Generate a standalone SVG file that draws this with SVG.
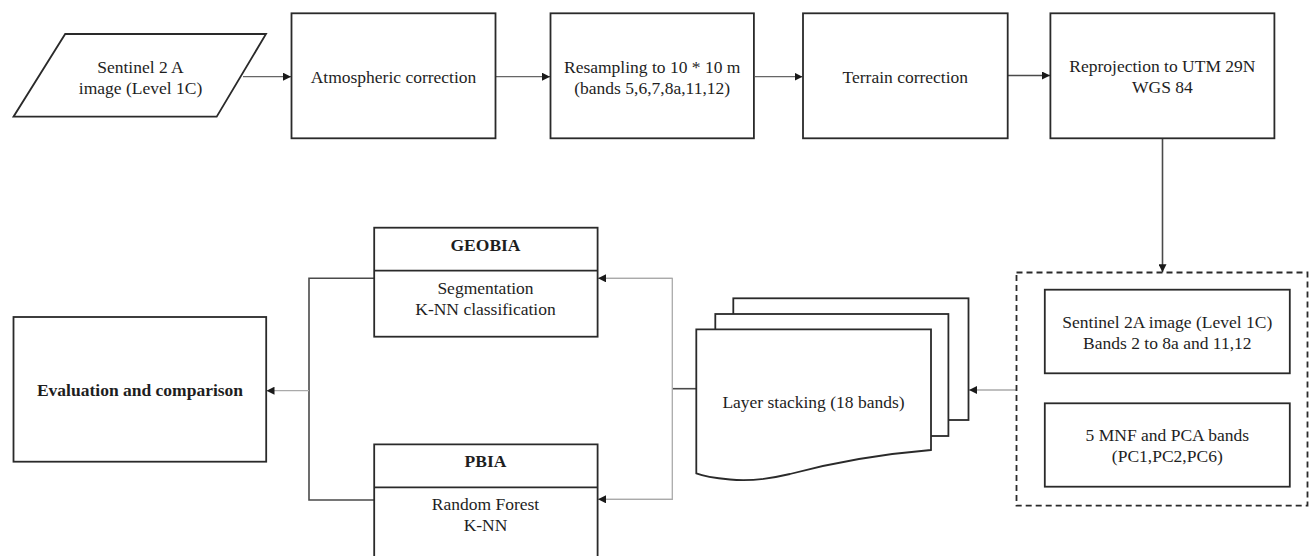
<svg xmlns="http://www.w3.org/2000/svg" width="1309" height="556" viewBox="0 0 1309 556">
<defs>
<marker id="ah" markerUnits="userSpaceOnUse" markerWidth="9" markerHeight="8" refX="8" refY="4" orient="auto">
<path d="M0,0 L8,4 L0,8 Z" fill="#1a1a1a"/>
</marker>
<style>
.box{fill:#fff;stroke:#2a2a2a;stroke-width:1.8}
.t{font-family:"Liberation Serif","Times New Roman",serif;font-size:17.5px;fill:#1e1e1e;text-anchor:middle}
.b{font-weight:bold}
.c{fill:none;stroke:#666;stroke-width:1.3}
.cl{fill:none;stroke:#aaa;stroke-width:1.3}
.cd{fill:none;stroke:#4a4a4a;stroke-width:1.6}
</style>
</defs>
<rect width="1309" height="556" fill="#fff"/>

<g id="connectors">
<line class="c" x1="243" y1="76.7" x2="291" y2="76.7" marker-end="url(#ah)"/>
<line class="c" x1="496" y1="76.7" x2="550" y2="76.7" marker-end="url(#ah)"/>
<line class="c" x1="755" y1="76.7" x2="802.5" y2="76.7" marker-end="url(#ah)"/>
<line class="cd" x1="1008" y1="75.5" x2="1050" y2="75.5" marker-end="url(#ah)"/>
<line class="cd" x1="1162.5" y1="138.3" x2="1162.5" y2="272.3" marker-end="url(#ah)"/>
<line class="cl" x1="1016" y1="390" x2="969" y2="390" marker-end="url(#ah)"/>
<line class="cd" x1="696" y1="388.7" x2="672.3" y2="388.7"/>
<polyline class="cl" points="597.6,278.3 672.3,278.3 672.3,499.3 597.6,499.3"/>
<line class="cl" x1="672.3" y1="278.3" x2="598" y2="278.3" marker-end="url(#ah)"/>
<line class="cl" x1="672.3" y1="499.3" x2="598" y2="499.3" marker-end="url(#ah)"/>
<polyline class="cd" points="374.2,278.3 309,278.3 309,500 374.2,500"/>
<line class="cl" x1="309" y1="390.7" x2="266.5" y2="390.7" marker-end="url(#ah)"/>
</g>

<g id="sentinel-input">
<polygon class="box" points="65.2,34 266,34 216.7,116.7 13.5,116.7"/>
<text class="t" x="140.5" y="72.7">Sentinel 2 A</text>
<text class="t" x="140.5" y="94.3">image (Level 1C)</text>
</g>

<g id="atmospheric">
<rect class="box" x="291.5" y="13.3" width="204" height="125"/>
<text class="t" x="393.5" y="82.5">Atmospheric correction</text>
</g>

<g id="resampling">
<rect class="box" x="550.5" y="13.3" width="203.4" height="125"/>
<text class="t" x="652.2" y="72.7">Resampling to 10 * 10 m</text>
<text class="t" x="652.2" y="94.3">(bands 5,6,7,8a,11,12)</text>
</g>

<g id="terrain">
<rect class="box" x="803" y="13.3" width="204.7" height="125"/>
<text class="t" x="905.3" y="82.5">Terrain correction</text>
</g>

<g id="reprojection">
<rect class="box" x="1050.4" y="13.3" width="224" height="125"/>
<text class="t" x="1162.4" y="71.7">Reprojection to UTM 29N</text>
<text class="t" x="1162.4" y="93.3">WGS 84</text>
</g>

<g id="inputs-group">
<rect x="1016.5" y="272.5" width="291" height="233.2" fill="none" stroke="#2a2a2a" stroke-width="1.8" stroke-dasharray="6,4"/>
<g id="sentinel-bands">
<rect class="box" x="1044.8" y="289.7" width="245" height="83.6"/>
<text class="t" x="1167.3" y="328.3">Sentinel 2A image (Level 1C)</text>
<text class="t" x="1167.3" y="349.3">Bands 2 to 8a and 11,12</text>
</g>
<g id="mnf-pca">
<rect class="box" x="1044.8" y="403.3" width="245" height="83.4"/>
<text class="t" x="1167.3" y="441">5 MNF and PCA bands</text>
<text class="t" x="1167.3" y="462.3">(PC1,PC2,PC6)</text>
</g>
</g>

<g id="layer-stacking">
<rect class="box" x="733.3" y="298.3" width="235.2" height="121.7"/>
<rect class="box" x="715.3" y="314" width="233.1" height="122"/>
<path class="box" d="M696.3,329.3 H931 V450 C870,455 820,466 790,474 C765,480 745,481 730,479.5 C715,478 703,476 696.3,473.3 Z"/>
<text class="t" x="813.5" y="408.3">Layer stacking (18 bands)</text>
</g>

<g id="geobia">
<rect class="box" x="374.2" y="227.7" width="223.4" height="109"/>
<line class="box" x1="374.2" y1="270.7" x2="597.6" y2="270.7"/>
<text class="t b" x="485.5" y="250.5">GEOBIA</text>
<text class="t" x="485.5" y="293.5">Segmentation</text>
<text class="t" x="485.5" y="315">K-NN classification</text>
</g>

<g id="pbia">
<path class="box" d="M374.2,560 V444.3 H597.6 V560"/>
<line class="box" x1="374.2" y1="487.3" x2="597.6" y2="487.3"/>
<text class="t b" x="485.5" y="467.3">PBIA</text>
<text class="t" x="485.5" y="510">Random Forest</text>
<text class="t" x="485.5" y="531">K-NN</text>
</g>

<g id="evaluation">
<rect class="box" x="13.5" y="317" width="252.7" height="144.7"/>
<text class="t b" x="140" y="395.5">Evaluation and comparison</text>
</g>
</svg>
